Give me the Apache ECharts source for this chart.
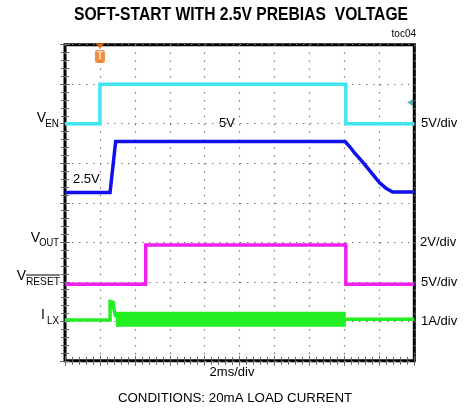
<!DOCTYPE html>
<html>
<head>
<meta charset="utf-8">
<script src="https://cdn.jsdelivr.net/npm/echarts@6/dist/echarts.min.js"></script>
<style>
  html, body { margin: 0; padding: 0; background: #fff; }
  #chart { width: 466px; height: 409px; }
</style>
</head>
<body>
<div id="chart"></div>
<script>
// time in divisions (2ms/div), level in divisions (0 = bottom of screen)
var enTime   = [0, 1.0, 1.0, 8.04, 8.04, 10];
var enLevel  = [6.0, 6.0, 7.0, 7.0, 6.0, 6.0];

var outTime  = [0, 1.29, 1.45, 8.02, 8.16, 8.29, 8.53, 8.77, 9.0, 9.2, 9.38, 10];
var outLevel = [4.26, 4.26, 5.55, 5.55, 5.41, 5.26, 5.02, 4.76, 4.51, 4.36, 4.27, 4.27];

var rstTime  = [0, 2.31, 2.31, 8.04, 8.04, 10];
var rstLevel = [1.94, 1.94, 2.93, 2.93, 1.94, 1.94];

var lxTime   = [0, 1.29, 1.29, 1.38, 1.38, 1.46];
var lxLevel  = [1.03, 1.03, 1.50, 1.48, 1.38, 1.10];
var lxSwTime  = [1.46, 8.04];      // switching (noisy band)
var lxSwLevel = [1.05, 1.05];
var lxEndTime  = [8.04, 10];
var lxEndLevel = [1.05, 1.05];

var triggerAt = [1.0];
var enGround  = [9.88, 6.54];

function zip(xs, ys) {
	var d = [];
	for (var i = 0; i < xs.length; i++) d.push([xs[i], ys[i]]);
	return d;
}

var myChart = echarts.init(document.getElementById('chart'));

function trace(data, color, width) {
	return {
		type: 'line',
		data: data,
		symbol: 'none',
		lineStyle: { color: color, width: width, join: 'miter' },
		z: 3
	};
}

function txt(x, y, text, size, align, extra) {
	var e = {
		type: 'text', x: x, y: y, z: 10,
		style: {
			text: text, fill: '#000', fontSize: size,
			fontFamily: '"Liberation Sans", Arial, sans-serif',
			align: align, verticalAlign: 'middle'
		}
	};
	for (var k in extra) e[k] = extra[k];
	return e;
}

var dotColor = '#7a7a7a';
var tickStyle = { show: true, inside: true, length: 5, lineStyle: { color: '#666', width: 1 } };
var minorStyle = { show: true, splitNumber: 5, length: 4, lineStyle: { color: '#666', width: 1 } };

var option = {
	animation: false,
	backgroundColor: '#fff',
	grid: {
		left: 65, top: 44.7, width: 349.3, height: 316.1,
		show: true, borderColor: '#000', borderWidth: 3
	},
	xAxis: [{
		type: 'value', min: 0, max: 10, interval: 1,
		axisLine: { show: false }, axisLabel: { show: false },
		axisTick: tickStyle, minorTick: minorStyle,
		splitLine: { show: true, lineStyle: { color: dotColor, width: 1.2, type: [1.5, 6.4] } }
	}, {
		type: 'value', min: 0, max: 10, interval: 1, position: 'top',
		axisLine: { show: false }, axisLabel: { show: false },
		axisTick: tickStyle, minorTick: minorStyle, splitLine: { show: false }
	}],
	yAxis: [{
		type: 'value', min: 0, max: 8, interval: 1,
		axisLine: { show: false }, axisLabel: { show: false },
		axisTick: tickStyle, minorTick: minorStyle,
		splitLine: { show: true, lineStyle: { color: dotColor, width: 1.2, type: [1.5, 5.5] } }
	}, {
		type: 'value', min: 0, max: 8, interval: 1, position: 'right',
		axisLine: { show: false }, axisLabel: { show: false },
		axisTick: tickStyle, minorTick: minorStyle, splitLine: { show: false }
	}],
	series: [
		trace(zip(enTime, enLevel), '#3fe6f2', 3.5),
		trace(zip(outTime, outLevel), '#1010f0', 3.5),
		trace(zip(rstTime, rstLevel), '#f020f0', 3.5),
		trace(zip(lxTime, lxLevel), '#22ee22', 3.5),
		trace(zip(lxSwTime, lxSwLevel), '#22ee22', 15),
		trace(zip(lxEndTime, lxEndLevel), '#22ee22', 3.5),
		{
			type: 'scatter', data: [[triggerAt[0], 7.96]], symbol: 'triangle',
			symbolRotate: 180, symbolSize: [9, 6],
			itemStyle: { color: '#f07010' }, z: 5
		},
		{
			type: 'scatter', data: [[triggerAt[0], 7.70]], symbol: 'roundRect',
			symbolSize: [10, 13], itemStyle: { color: '#f07010' }, z: 5,
			label: { show: true, position: 'inside', formatter: 'T', color: '#fff', fontSize: 10, fontWeight: 'bold' }
		},
		{
			type: 'scatter', data: [enGround], symbol: 'triangle',
			symbolRotate: 90, symbolSize: [7, 6],
			itemStyle: { color: '#2a9d9d' }, z: 5
		}
	],
	graphic: [
		txt(241, 15, 'SOFT-START WITH 2.5V PREBIAS  VOLTAGE', 18, 'center',
			{ scaleX: 0.87, style: { text: 'SOFT-START WITH 2.5V PREBIAS  VOLTAGE', fill: '#000', fontSize: 18, fontWeight: 'bold',
				fontFamily: '"Liberation Sans", Arial, sans-serif', align: 'center', verticalAlign: 'middle' } }),
		txt(416, 34, 'toc04', 10, 'right'),

		txt(46, 118, 'V', 14, 'right'),
		txt(59, 124, 'EN', 11, 'right', { scaleX: 0.9 }),
		txt(40, 238.5, 'V', 14, 'right'),
		txt(59, 243, 'OUT', 11, 'right', { scaleX: 0.85 }),
		txt(26, 276.5, 'V', 14, 'right'),
		txt(60, 281.5, 'RESET', 11, 'right', { scaleX: 0.93 }),
		{ type: 'line', z: 10, shape: { x1: 26, y1: 275, x2: 60, y2: 275 }, style: { stroke: '#000', lineWidth: 1 } },
		txt(45, 315, 'I', 14, 'right'),
		txt(59, 320.5, 'LX', 11, 'right', { scaleX: 0.9 }),

		txt(227, 123.5, '5V', 13, 'center'),
		txt(73, 179, '2.5V', 13, 'left'),

		txt(421, 123, '5V/div', 13, 'left'),
		txt(420, 242.5, '2V/div', 13, 'left'),
		txt(421, 282, '5V/div', 13, 'left'),
		txt(421, 321.5, '1A/div', 13, 'left'),

		txt(232, 372.5, '2ms/div', 13, 'center'),
		txt(235, 398, 'CONDITIONS: 20mA LOAD CURRENT', 13.3, 'center')
	]
};

myChart.setOption(option);
</script>
</body>
</html>
